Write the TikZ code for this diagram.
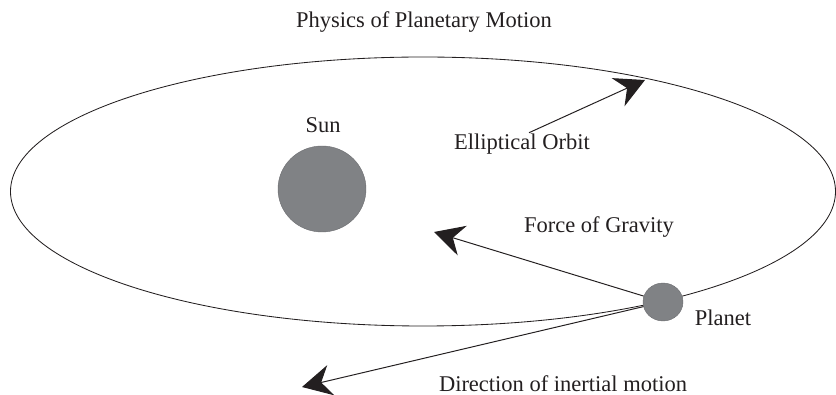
\documentclass[tikz,border=0pt]{standalone}
\usepackage{fontspec}
\setmainfont{Liberation Serif}
\usepackage{tikz}
\usetikzlibrary{arrows.meta,shapes.geometric}
\definecolor{bodygray}{RGB}{128,130,133}
\definecolor{inkblack}{RGB}{35,31,32}

\begin{document}
\begin{tikzpicture}[
  every node/.style={font=\fontsize{16}{19}\selectfont, text=inkblack},
  txt/.style={anchor=base, inner sep=0pt},
  body/.style={ellipse, fill=bodygray, draw=bodygray!85!black, line width=0.3pt, inner sep=0pt},
  orbitline/.style={draw=inkblack, line width=0.6pt},
  pull/.style={-{Stealth[length=21pt, width=22pt, inset=7pt]}, line width=0.7pt, draw=inkblack}
]
\useasboundingbox (0,0) rectangle (20.9,9.875);

% Title
\node[txt] (title) at (10.6, 9.175) {Physics of Planetary Motion};

% Orbit and bodies
\draw[orbitline] (10.575, 5.0875) ellipse [x radius=10.3125, y radius=3.3625];
\node[body, minimum width=2.2cm, minimum height=2.15cm] (sun) at (8.05, 5.15) {};
\node[body, minimum width=1.0cm, minimum height=0.95cm] (planet) at (16.575, 2.325) {};

% Labels
\node[txt] (sunlbl) at (8.075, 6.55) {Sun};
\node[txt] (orbitlbl) at (13.05, 6.125) {Elliptical Orbit};
\node[txt] (gravlbl) at (14.975, 4.05) {Force of Gravity};
\node[txt] (planetlbl) at (18.075, 1.725) {Planet};
\node[txt] (inertlbl) at (14.075, 0.075) {Direction of inertial motion};

% Arrow tips
\coordinate (orbittip) at (16.125, 7.875);
\coordinate (gravtip) at (10.85, 4.075);
\coordinate (inerttip) at (7.55, 0.2);

% Arrows
\draw[pull] ([xshift=5pt, yshift=1pt]orbitlbl.north) -- (orbittip);
\draw[pull] (planet) -- (gravtip);
\draw[pull] (planet) -- (inerttip);
\end{tikzpicture}
\end{document}
